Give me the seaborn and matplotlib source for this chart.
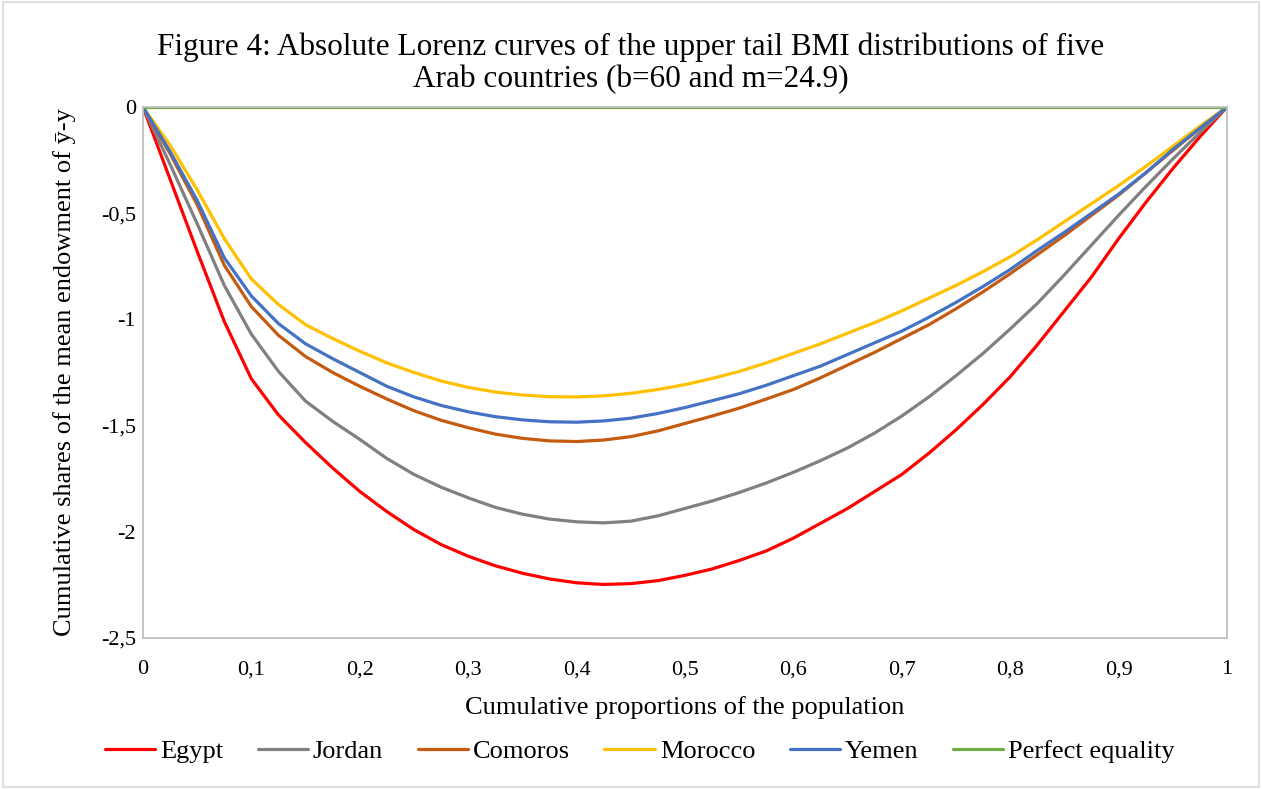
import matplotlib
matplotlib.use("Agg")
import matplotlib.pyplot as plt
import seaborn as sns
import pandas as pd
from matplotlib.patches import Rectangle

# ---- data ----
p = [0, 0.025, 0.05, 0.075, 0.1, 0.125, 0.15, 0.175, 0.2, 0.225, 0.25,
     0.275, 0.3, 0.325, 0.35, 0.375, 0.4, 0.425, 0.45, 0.475, 0.5,
     0.525, 0.55, 0.575, 0.6, 0.625, 0.65, 0.675, 0.7, 0.725, 0.75,
     0.775, 0.8, 0.825, 0.85, 0.875, 0.9, 0.925, 0.95, 0.975, 1]
egypt = [0, -0.34, -0.68, -1.01, -1.28, -1.45, -1.58, -1.70, -1.81, -1.905, -1.99,
         -2.06, -2.115, -2.16, -2.195, -2.222, -2.24, -2.248, -2.244, -2.23, -2.205,
         -2.175, -2.135, -2.09, -2.03, -1.96, -1.89, -1.81, -1.73, -1.63, -1.52,
         -1.40, -1.27, -1.12, -0.96, -0.80, -0.62, -0.45, -0.29, -0.14, 0]
jordan = [0, -0.27, -0.55, -0.84, -1.07, -1.245, -1.385, -1.48, -1.565, -1.655, -1.73,
          -1.79, -1.84, -1.885, -1.917, -1.94, -1.953, -1.958, -1.95, -1.925, -1.89,
          -1.855, -1.815, -1.77, -1.72, -1.665, -1.605, -1.535, -1.455, -1.365, -1.265,
          -1.16, -1.045, -0.925, -0.79, -0.65, -0.51, -0.375, -0.245, -0.12, 0]
comoros = [0, -0.22, -0.46, -0.745, -0.94, -1.075, -1.175, -1.25, -1.315, -1.375, -1.43,
           -1.475, -1.51, -1.54, -1.56, -1.572, -1.575, -1.568, -1.552, -1.525, -1.49,
           -1.455, -1.418, -1.375, -1.33, -1.275, -1.215, -1.155, -1.09, -1.025, -0.95,
           -0.87, -0.785, -0.695, -0.605, -0.51, -0.415, -0.31, -0.205, -0.10, 0]
morocco = [0, -0.18, -0.39, -0.62, -0.81, -0.93, -1.025, -1.09, -1.15, -1.205, -1.25,
           -1.29, -1.32, -1.342, -1.356, -1.364, -1.365, -1.36, -1.348, -1.33, -1.307,
           -1.278, -1.245, -1.205, -1.16, -1.115, -1.065, -1.015, -0.96, -0.90, -0.84,
           -0.775, -0.705, -0.625, -0.54, -0.455, -0.37, -0.28, -0.185, -0.09, 0]
yemen = [0, -0.21, -0.44, -0.71, -0.89, -1.02, -1.115, -1.185, -1.25, -1.315, -1.365,
         -1.405, -1.435, -1.458, -1.473, -1.482, -1.484, -1.478, -1.465, -1.443, -1.415,
         -1.383, -1.35, -1.31, -1.265, -1.22, -1.165, -1.11, -1.055, -0.99, -0.92,
         -0.845, -0.765, -0.675, -0.59, -0.50, -0.41, -0.31, -0.20, -0.10, 0]
equality_p = [0, 1]
equality = [0, 0]

series_names = ["Egypt", "Jordan", "Comoros", "Morocco", "Yemen", "Perfect equality"]
colors = ["#FF0000", "#808080", "#C55A11", "#FFC000", "#4472C4", "#70AD47"]
x_ticks = [0, 0.1, 0.2, 0.3, 0.4, 0.5, 0.6, 0.7, 0.8, 0.9, 1]
y_ticks = [0, -0.5, -1, -1.5, -2, -2.5]

title = ("Figure 4: Absolute Lorenz curves of the upper tail BMI distributions of five\n"
         "Arab countries (b=60 and m=24.9)")
xlabel = "Cumulative proportions of the population"
ylabel = "Cumulative shares of the mean endowment of ȳ-y"

# ---- build long-form table ----
frames = []
for name, vals in zip(series_names[:-1], [egypt, jordan, comoros, morocco, yemen]):
    frames.append(pd.DataFrame({"p": p, "v": vals, "series": name}))
frames.append(pd.DataFrame({"p": equality_p, "v": equality, "series": series_names[-1]}))
df = pd.concat(frames, ignore_index=True)

sns.set_theme(style="white")
plt.rcParams["font.family"] = ["Liberation Serif", "DejaVu Sans"]
plt.rcParams["text.color"] = "black"
plt.rcParams["axes.labelcolor"] = "black"

W, H = 1262, 789
fig = plt.figure(figsize=(W / 100, H / 100), dpi=100)
ax = fig.add_axes([143 / W, 1 - 638 / H, (1227 - 143) / W, (638 - 107) / H])

sns.lineplot(data=df, x="p", y="v", hue="series", hue_order=series_names,
             palette=dict(zip(series_names, colors)), linewidth=2.3,
             sort=True, estimator=None, ax=ax, legend=True)

ax.set_xlim(0, 1)
ax.set_ylim(-2.5, 0)
ax.set_xticks(x_ticks)
ax.set_xticklabels([("%g" % t).replace(".", ",") for t in x_ticks])
ax.set_yticks(y_ticks)
ax.set_yticklabels([("%g" % t).replace(".", ",") for t in y_ticks])
ax.tick_params(axis="both", length=0, labelsize=16, colors="black")
ax.tick_params(axis="x", pad=16)
ax.tick_params(axis="y", pad=5)
for s in ax.spines.values():
    s.set_color("#BFBFBF")
    s.set_linewidth(1.3)
ax.grid(False)

ax.set_xlabel(xlabel, fontsize=19, labelpad=12)
ax.set_ylabel(ylabel, fontsize=19, labelpad=18)

fig.text(0.5, 1 - 63 / H, title, ha="center", va="center", fontsize=22.5,
         linespacing=1.12)

handles, labels = ax.get_legend_handles_labels()
ax.get_legend().remove()
for h in handles:
    h.set_linewidth(2.3)
fig.legend(handles, labels, loc="center", bbox_to_anchor=(0.507, 1 - 751 / H),
           ncol=6, frameon=False, fontsize=19, handlelength=1.9,
           handletextpad=0.2, columnspacing=1.3)

fig.patches.append(Rectangle((0.002, 0.002), 0.996, 0.996, transform=fig.transFigure,
                             fill=False, edgecolor="#D9D9D9", linewidth=1.2))

fig.savefig("out.png", dpi=100)
